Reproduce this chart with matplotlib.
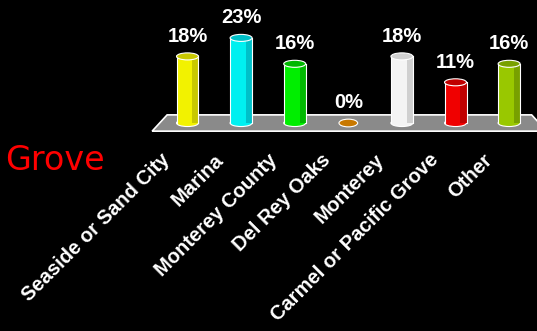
import matplotlib.pyplot as plt
from matplotlib.patches import Rectangle, Ellipse, Polygon

# Chart data
categories = ['Seaside or Sand City', 'Marina', 'Monterey County', 'Del Rey Oaks',
              'Monterey', 'Carmel or Pacific Grove', 'Other']
values = [18, 23, 16, 0, 18, 11, 16]
labels = ['18%', '23%', '16%', '0%', '18%', '11%', '16%']
colors = ['#f2f200', '#00f0f0', '#00ee00', '#c87800', '#f4f4f4', '#f00000', '#99c800']
darks = ['#c8c800', '#00c0c8', '#00b800', '#a06000', '#d0d0d0', '#c00000', '#78a000']

fig = plt.figure(figsize=(5.37, 3.31), dpi=100, facecolor='black')
ax = fig.add_axes([0, 0, 1, 1])
ax.set_facecolor('black')
ax.set_xlim(-3.498, 6.52)
ax.set_ylim(-56.2, 33.24)
ax.axis('off')

# gray floor
floor = Polygon([(-0.66, -2.2), (6.7, -2.2), (6.42, 2.2), (-0.38, 2.2)],
                closed=True, facecolor='#8a8a8a', edgecolor='white', lw=1.2, zorder=1)
ax.add_patch(floor)

w = 0.41
eh = 1.9
for i, (v, c, d) in enumerate(zip(values, colors, darks)):
    if v == 0:
        ax.add_patch(Ellipse((i, 0), w * 0.85, eh * 1.1, facecolor=c,
                             edgecolor='white', lw=0.8, zorder=3))
    else:
        ax.add_patch(Ellipse((i, 0), w, eh, facecolor=c, edgecolor='white',
                             lw=0.8, zorder=2))
        ax.add_patch(Rectangle((i - w / 2, 0), w, v, facecolor=c,
                               edgecolor='none', zorder=3))
        ax.add_patch(Rectangle((i + w * 0.22, 0), w * 0.28, v, facecolor=d,
                               edgecolor='none', zorder=3))
        ax.plot([i - w / 2, i - w / 2], [0, v], color='white', lw=0.8, zorder=4)
        ax.plot([i + w / 2, i + w / 2], [0, v], color='white', lw=0.8, zorder=4)
        ax.add_patch(Ellipse((i, v), w, eh, facecolor=d, edgecolor='white',
                             lw=0.8, zorder=5))
    ax.text(i, v + 4, labels[i], color='white', fontsize=14.5, fontweight='bold',
            family='Liberation Sans', ha='center', va='baseline', zorder=6)
    ax.text(i - 0.38, -9.2, categories[i], color='white', fontsize=14.5,
            fontweight='bold', family='Liberation Sans', rotation=45,
            rotation_mode='anchor', ha='right', va='center')

fig.text(5 / 537, 1 - 170 / 331, 'Grove', color='#ff0000', fontsize=24,
         family='DejaVu Sans', ha='left', va='baseline')

plt.savefig('out.png', dpi=100, facecolor='black')
